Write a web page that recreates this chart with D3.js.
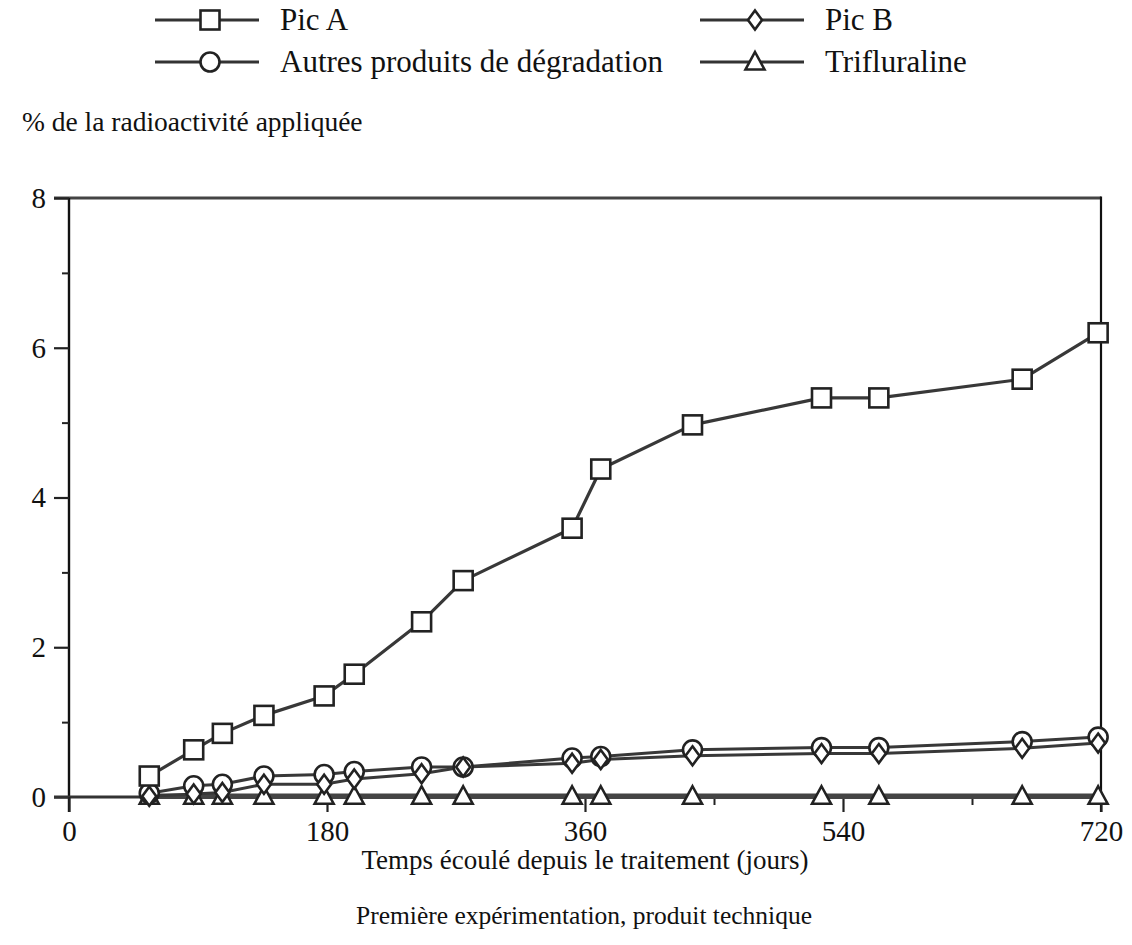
<!DOCTYPE html>
<html>
<head>
<meta charset="utf-8">
<script src="https://cdn.jsdelivr.net/npm/d3@7"></script>
<style>
  html, body { margin: 0; padding: 0; background: #fff; }
  svg { display: block; }
  text { font-family: "Liberation Serif", "Times New Roman", serif; fill: #111; }
</style>
</head>
<body>
<svg id="chart" width="1132" height="945"></svg>
<script>
// Days after treatment at which samples were taken
const days = [56, 87, 107, 136, 178, 199, 246, 275, 351, 371, 435, 525, 565, 665, 718];

// % of applied radioactivity per fraction
const picA = [0.28, 0.63, 0.85, 1.09, 1.35, 1.64, 2.34, 2.89, 3.59, 4.38, 4.97, 5.33, 5.33, 5.58, 6.20];
const picB = [0.01, 0.04, 0.06, 0.17, 0.17, 0.24, 0.31, 0.40, 0.45, 0.50, 0.55, 0.58, 0.58, 0.65, 0.72];
const autres = [0.05, 0.15, 0.17, 0.28, 0.30, 0.34, 0.40, 0.40, 0.52, 0.54, 0.63, 0.66, 0.66, 0.74, 0.80];
const trifluraline = [0.01, 0.01, 0.01, 0.01, 0.01, 0.01, 0.01, 0.01, 0.01, 0.01, 0.01, 0.01, 0.01, 0.01, 0.01];

const xMajorTicks = [0, 180, 360, 540, 720];
const xMinorTicks = [90, 270, 450, 630];
const yMajorTicks = [0, 2, 4, 6, 8];
const yMinorTicks = [1, 3, 5, 7];

const seriesNames = ["Pic A", "Pic B", "Autres produits de dégradation", "Trifluraline"];
const seriesSymbols = ["square", "diamond", "circle", "triangle"];

const yTitle = "% de la radioactivité appliquée";
const xTitle = "Temps écoulé depuis le traitement (jours)";
const subTitle = "Première expérimentation, produit technique";

const serif = "'Liberation Serif', 'Times New Roman', serif";
const svg = d3.select("#chart");

const plotLeft = 69, plotRight = 1101, plotTop = 198, plotBottom = 797;
const x = d3.scaleLinear().domain([0, 720]).range([plotLeft, plotRight]);
const y = d3.scaleLinear().domain([0, 8]).range([plotBottom, plotTop]);

const ink = "#222";
const lineInk = "#383838";

// Marker shapes drawn around (0,0)
function drawMarker(g, kind) {
  if (kind === "square") {
    g.append("rect").attr("x", -9.5).attr("y", -9.5).attr("width", 19).attr("height", 19)
      .attr("fill", "#fff").attr("stroke", ink).attr("stroke-width", 2.6);
  } else if (kind === "circle") {
    g.append("circle").attr("r", 9.5)
      .attr("fill", "#fff").attr("stroke", ink).attr("stroke-width", 2.6);
  } else if (kind === "diamond") {
    g.append("path").attr("d", "M0,-9.5L7,0L0,9.5L-7,0Z")
      .attr("fill", "#fff").attr("stroke", ink).attr("stroke-width", 2.6);
  } else if (kind === "triangle") {
    g.append("path").attr("d", "M0,-10L9.5,7.5L-9.5,7.5Z")
      .attr("fill", "#fff").attr("stroke", ink).attr("stroke-width", 2.6);
  }
}

// Frame: top and right edges
svg.append("line").attr("x1", 54).attr("x2", plotRight).attr("y1", y(8)).attr("y2", y(8))
  .attr("stroke", "#444").attr("stroke-width", 3);
svg.append("line").attr("x1", plotRight).attr("x2", plotRight).attr("y1", y(8) - 1.5).attr("y2", plotBottom + 15)
  .attr("stroke", "#111").attr("stroke-width", 2.2);

// Y axis with major and minor ticks
const yAxis = svg.append("g").attr("transform", `translate(${plotLeft},0)`);
yAxis.append("line").attr("x1", 0).attr("x2", 0).attr("y1", y(8)).attr("y2", plotBottom + 15)
  .attr("stroke", "#111").attr("stroke-width", 2.4);
yAxis.append("g").call(d3.axisLeft(y).tickValues(yMajorTicks).tickSize(15).tickPadding(8).tickFormat(d3.format("d")))
  .attr("font-family", serif)
  .call(g => g.select(".domain").remove())
  .call(g => g.selectAll(".tick line").attr("stroke", "#222").attr("stroke-width", 2.2))
  .call(g => g.selectAll(".tick text").attr("font-size", 29).attr("fill", "#111"));
yAxis.append("g").call(d3.axisLeft(y).tickValues(yMinorTicks).tickSize(7).tickFormat(""))
  .call(g => g.select(".domain").remove())
  .call(g => g.selectAll(".tick line").attr("stroke", "#222").attr("stroke-width", 2));

// X axis with major and minor ticks
const xAxis = svg.append("g").attr("transform", `translate(0,${plotBottom})`);
xAxis.append("line").attr("x1", 54).attr("x2", plotRight).attr("y1", 0).attr("y2", 0)
  .attr("stroke", "#333").attr("stroke-width", 3);
xAxis.append("g").call(d3.axisBottom(x).tickValues(xMajorTicks).tickSize(15).tickPadding(8).tickFormat(d3.format("d")))
  .attr("font-family", serif)
  .call(g => g.select(".domain").remove())
  .call(g => g.selectAll(".tick line").attr("stroke", "#222").attr("stroke-width", 2.2))
  .call(g => g.selectAll(".tick text").attr("font-size", 29).attr("fill", "#111"));
xAxis.append("g").call(d3.axisBottom(x).tickValues(xMinorTicks).tickSize(8).tickFormat(""))
  .call(g => g.select(".domain").remove())
  .call(g => g.selectAll(".tick line").attr("stroke", "#222").attr("stroke-width", 2));

// Series lines and markers (bottom series first so upper markers sit on top)
const series = [
  { name: seriesNames[3], values: trifluraline, symbol: seriesSymbols[3], width: 5.5, color: "#444" },
  { name: seriesNames[2], values: autres, symbol: seriesSymbols[2], width: 3, color: lineInk },
  { name: seriesNames[1], values: picB, symbol: seriesSymbols[1], width: 3, color: lineInk },
  { name: seriesNames[0], values: picA, symbol: seriesSymbols[0], width: 3.2, color: lineInk }
];

const line = d3.line().x(d => x(d[0])).y(d => y(d[1]));

series.forEach(s => {
  const pts = days.map((d, i) => [d, s.values[i]]);
  svg.append("path").datum(pts).attr("d", line)
    .attr("fill", "none").attr("stroke", s.color).attr("stroke-width", s.width)
    .attr("stroke-linejoin", "round");
});
series.forEach(s => {
  const pts = days.map((d, i) => [d, s.values[i]]);
  svg.append("g").selectAll("g").data(pts).join("g")
    .attr("transform", d => `translate(${x(d[0])},${y(d[1])})`)
    .each(function () { drawMarker(d3.select(this), s.symbol); });
});

// Legend: two rows, two columns
const legendItems = [
  { name: seriesNames[0], symbol: seriesSymbols[0], lx: 155, cy: 20 },
  { name: seriesNames[1], symbol: seriesSymbols[1], lx: 700, cy: 20 },
  { name: seriesNames[2], symbol: seriesSymbols[2], lx: 155, cy: 62 },
  { name: seriesNames[3], symbol: seriesSymbols[3], lx: 700, cy: 62 }
];
legendItems.forEach(it => {
  const g = svg.append("g").attr("transform", `translate(${it.lx},${it.cy})`);
  g.append("line").attr("x1", 0).attr("x2", 104).attr("y1", 0).attr("y2", 0)
    .attr("stroke", "#333").attr("stroke-width", 3);
  const m = g.append("g").attr("transform", "translate(55,0)");
  drawMarker(m, it.symbol);
  g.append("text").attr("x", 125).attr("y", 0).attr("dy", "0.32em")
    .attr("font-family", serif).attr("font-size", 31).text(it.name);
});

// Titles
svg.append("text").attr("x", 22).attr("y", 122).attr("dy", "0.32em")
  .attr("font-family", serif).attr("font-size", 27.5).text(yTitle);
svg.append("text").attr("x", 585).attr("y", 860).attr("dy", "0.32em")
  .attr("font-family", serif).attr("text-anchor", "middle").attr("font-size", 27).text(xTitle);
svg.append("text").attr("x", 584).attr("y", 916).attr("dy", "0.32em")
  .attr("font-family", serif).attr("text-anchor", "middle").attr("font-size", 25.5).text(subTitle);
</script>
</body>
</html>
